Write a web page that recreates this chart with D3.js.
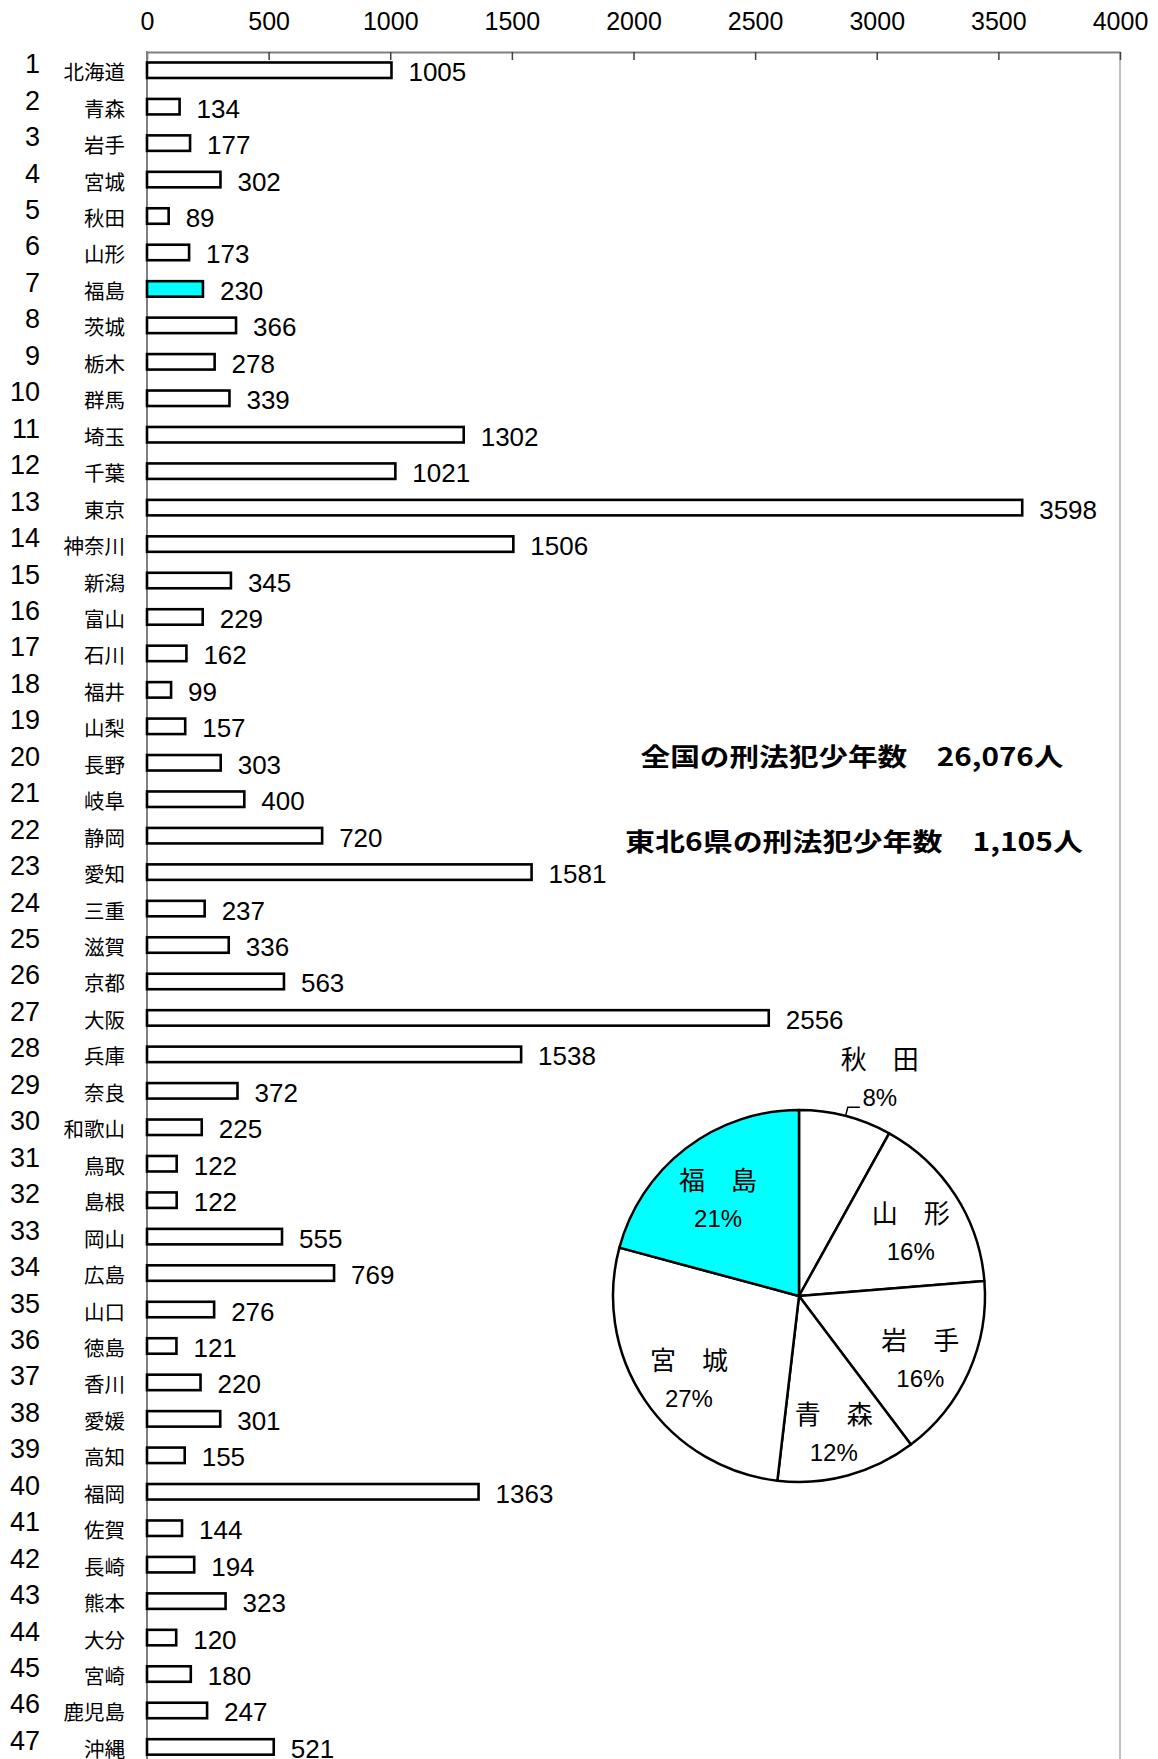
<!DOCTYPE html>
<html lang="ja">
<head>
    <meta charset="UTF-8">
    <title>刑法犯少年数</title>
    <style type="text/css">
        * {
            margin: 0;
            padding: 0;
        }
        body {
            background: #fff;
        }
    </style>
</head>
<body>
<div id="chart-area"></div>
<script src="https://cdn.jsdelivr.net/npm/d3@7"></script>
<script type="text/javascript">

  // 都道府県別 刑法犯少年数
  const prefs = ['北海道', '青森', '岩手', '宮城', '秋田', '山形', '福島', '茨城', '栃木', '群馬',
    '埼玉', '千葉', '東京', '神奈川', '新潟', '富山', '石川', '福井', '山梨', '長野',
    '岐阜', '静岡', '愛知', '三重', '滋賀', '京都', '大阪', '兵庫', '奈良', '和歌山',
    '鳥取', '島根', '岡山', '広島', '山口', '徳島', '香川', '愛媛', '高知', '福岡',
    '佐賀', '長崎', '熊本', '大分', '宮崎', '鹿児島', '沖縄']
  const counts = [1005, 134, 177, 302, 89, 173, 230, 366, 278, 339,
    1302, 1021, 3598, 1506, 345, 229, 162, 99, 157, 303,
    400, 720, 1581, 237, 336, 563, 2556, 1538, 372, 225,
    122, 122, 555, 769, 276, 121, 220, 301, 155, 1363,
    144, 194, 323, 120, 180, 247, 521]
  const xTicks = [0, 500, 1000, 1500, 2000, 2500, 3000, 3500, 4000]

  // 東北6県 (円グラフ、12時から時計回り)
  const pieNames = ['秋田', '山形', '岩手', '青森', '宮城', '福島']
  const pieValues = [89, 173, 177, 134, 302, 230]

  const highlight = '福島'
  const notes = ['全国の刑法犯少年数　26,076人', '東北6県の刑法犯少年数　1,105人']

  const WIDTH = 1158
  const HEIGHT = 1759
  const PLOT = {LEFT: 147, RIGHT: 1120, TOP: 52}
  const STEP = 36.45

  const NUM_FONT = '"Liberation Sans", Arial, sans-serif'
  const JP_FONT = '"Noto Sans CJK JP", sans-serif'

  const svg = d3.select('#chart-area').append('svg')
    .attr('width', WIDTH)
    .attr('height', HEIGHT)
    .style('display', 'block')

  const x = d3.scaleLinear().domain([0, 4000]).range([PLOT.LEFT, PLOT.RIGHT])
  const y = d3.scaleBand().domain(d3.range(prefs.length))
    .range([PLOT.TOP, PLOT.TOP + STEP * prefs.length])
    .paddingInner(0.575)
    .paddingOuter(0.2875)

  // right border
  svg.append('line')
    .attr('x1', PLOT.RIGHT).attr('x2', PLOT.RIGHT)
    .attr('y1', PLOT.TOP).attr('y2', HEIGHT)
    .attr('stroke', '#c0c0c0')
    .attr('stroke-width', 2)

  // top axis
  svg.append('g')
    .attr('transform', `translate(0, ${PLOT.TOP})`)
    .call(d3.axisTop(x).tickValues(xTicks).tickFormat(d3.format('d'))
      .tickSizeInner(-8).tickSizeOuter(0).tickPadding(22))
    .call(g => g.select('.domain').attr('stroke', '#808080').attr('stroke-width', 2))
    .call(g => g.selectAll('.tick line').attr('stroke', '#404040').attr('stroke-width', 1.5))
    .call(g => g.selectAll('.tick text')
      .attr('fill', '#000')
      .attr('font-family', NUM_FONT)
      .attr('font-size', '25px'))

  // left axis line
  svg.append('line')
    .attr('x1', PLOT.LEFT).attr('x2', PLOT.LEFT)
    .attr('y1', PLOT.TOP - 1).attr('y2', HEIGHT)
    .attr('stroke', '#808080')
    .attr('stroke-width', 2)

  const rows = svg.append('g').selectAll('g')
    .data(prefs)
    .join('g')
    .attr('transform', (d, i) => `translate(0, ${y(i)})`)

  const bw = y.bandwidth()

  rows.append('rect')
    .attr('x', x(0))
    .attr('y', 0)
    .attr('width', (d, i) => x(counts[i]) - x(0))
    .attr('height', bw)
    .attr('fill', d => d === highlight ? '#00ffff' : '#fff')
    .attr('stroke', '#000')
    .attr('stroke-width', 2.6)

  // row numbers
  rows.append('text')
    .attr('x', 40)
    .attr('y', bw / 2 + 3)
    .attr('text-anchor', 'end')
    .attr('font-family', NUM_FONT)
    .attr('font-size', '27px')
    .text((d, i) => i + 1)

  // prefecture names
  rows.append('text')
    .attr('x', 125)
    .attr('y', bw / 2 + 1)
    .attr('text-anchor', 'end')
    .attr('dominant-baseline', 'central')
    .attr('font-family', JP_FONT)
    .attr('font-size', '20.5px')
    .text(d => d)

  // values
  rows.append('text')
    .attr('x', (d, i) => x(counts[i]) + 17)
    .attr('y', bw / 2 + 11)
    .attr('font-family', NUM_FONT)
    .attr('font-size', '26px')
    .text((d, i) => counts[i])

  // notes
  svg.append('text')
    .attr('x', 852).attr('y', 755)
    .attr('text-anchor', 'middle')
    .attr('dominant-baseline', 'central')
    .attr('font-family', JP_FONT)
    .attr('font-weight', 'bold')
    .attr('font-size', '25px')
    .attr('textLength', 423)
    .attr('lengthAdjust', 'spacingAndGlyphs')
    .text(notes[0])

  svg.append('text')
    .attr('x', 854).attr('y', 840)
    .attr('text-anchor', 'middle')
    .attr('dominant-baseline', 'central')
    .attr('font-family', JP_FONT)
    .attr('font-weight', 'bold')
    .attr('font-size', '25px')
    .attr('textLength', 458)
    .attr('lengthAdjust', 'spacingAndGlyphs')
    .text(notes[1])

  // pie
  const R = 186
  const pieG = svg.append('g').attr('transform', 'translate(799, 1296)')
  const total = d3.sum(pieValues)
  const arcs = d3.pie().sort(null)(pieValues)
  const arc = d3.arc().innerRadius(0).outerRadius(R)
  const labelArc = d3.arc().innerRadius(133).outerRadius(133)

  pieG.selectAll('path')
    .data(arcs)
    .join('path')
    .attr('d', arc)
    .attr('fill', (d, i) => pieNames[i] === highlight ? '#00ffff' : '#fff')
    .attr('stroke', '#000')
    .attr('stroke-width', 2.5)
    .attr('stroke-linejoin', 'round')

  const pct = v => Math.round(v / total * 100) + '%'

  arcs.forEach((a, i) => {
    const mid = (a.startAngle + a.endAngle) / 2
    let cx, cy
    if (i === 0) {
      // small slice: label outside with a leader line
      const p1 = [Math.sin(mid) * R, -Math.cos(mid) * R]
      const p2 = [Math.sin(mid) * (R + 9), -Math.cos(mid) * (R + 9)]
      pieG.append('polyline')
        .attr('points', [p1, p2, [p2[0] + 12, p2[1]]].map(p => p.join(',')).join(' '))
        .attr('fill', 'none')
        .attr('stroke', '#000')
        .attr('stroke-width', 1.5)
      cx = p2[0] + 32
      cy = p2[1] - 30
    } else {
      [cx, cy] = labelArc.centroid(a)
      cy += 8
    }
    pieG.append('text')
      .attr('x', cx).attr('y', cy - 20)
      .attr('text-anchor', 'middle')
      .attr('dominant-baseline', 'central')
      .attr('font-family', JP_FONT)
      .attr('font-size', '26px')
      .text(pieNames[i].split('').join('　'))
    pieG.append('text')
      .attr('x', cx).attr('y', cy + 20)
      .attr('text-anchor', 'middle')
      .attr('dominant-baseline', 'central')
      .attr('font-family', NUM_FONT)
      .attr('font-size', '24px')
      .text(pct(pieValues[i]))
  })

</script>
</body>
</html>
